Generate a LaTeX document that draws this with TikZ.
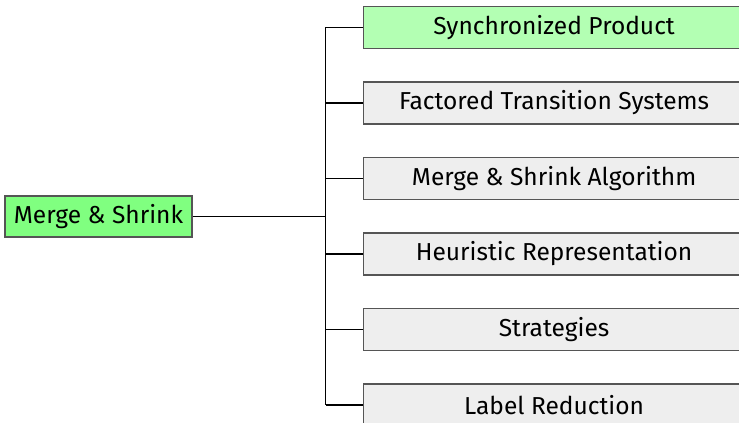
\documentclass[tikz,border=0pt]{standalone}
\usepackage{fontspec}
\setmainfont{Fira Sans}
\usepackage{tikz}
\usepackage{xcolor}
\definecolor{rootgreen}{RGB}{128,255,128}
\definecolor{topgreen}{RGB}{179,255,179}
\definecolor{boxgray}{RGB}{238,238,238}
\definecolor{rim}{RGB}{85,85,85}

\begin{document}
\begin{tikzpicture}[x=0.75pt,y=0.75pt,
  box/.style={draw=rim,line width=1.1pt,fill=boxgray,minimum height=31.5pt,inner sep=0pt,font=\fontsize{18.4}{22}\selectfont},
  sub/.style={box,anchor=west,minimum width=290pt},
  link/.style={line width=0.9pt}]
\clip (0,0) rectangle (739,423);
\node[box,fill=rootgreen,minimum width=140pt,minimum height=30.75pt] (ms) at (98.5,206.5) {Merge \& Shrink};
\node[sub,fill=topgreen] (sp) at (362.7,395.5) {\hspace{-4pt}Synchronized Product};
\node[sub] (fts) at (362.7,320) {\hspace{-4pt}Factored Transition Systems};
\node[sub] (alg) at (362.7,244.5) {\hspace{-4pt}Merge \& Shrink Algorithm};
\node[sub] (hr) at (362.7,169) {\hspace{-4pt}Heuristic Representation};
\node[sub] (st) at (362.7,93.5) {\hspace{-4pt}Strategies};
\node[sub] (lr) at (362.7,18) {\hspace{-4pt}Label Reduction};
\coordinate (fork) at (325.5,206.5);
\draw[link] (ms.east) -- (fork);
\draw[link] (fork |- sp.west) -- (fork |- lr.west);
\draw[link] (fork |- sp.west) -- (sp.west);
\draw[link] (fork |- fts.west) -- (fts.west);
\draw[link] (fork |- alg.west) -- (alg.west);
\draw[link] (fork |- hr.west) -- (hr.west);
\draw[link] (fork |- st.west) -- (st.west);
\draw[link] (fork |- lr.west) -- (lr.west);
\end{tikzpicture}
\end{document}
